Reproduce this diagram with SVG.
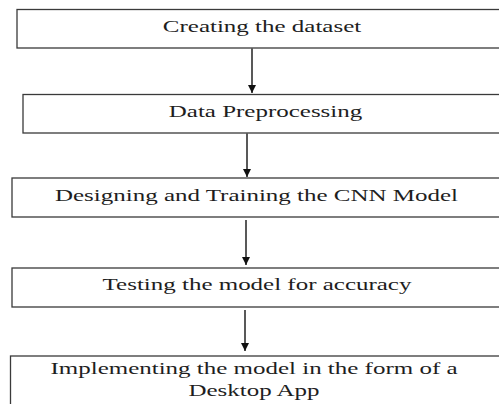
<svg xmlns="http://www.w3.org/2000/svg" width="499" height="404" viewBox="0 0 499 404">
<defs>
<style>
.box{fill:#fff;stroke:#3a3a3a;stroke-width:1.3}
.lbl{font-family:"Liberation Serif","Times New Roman",serif;font-size:16.5px;fill:#1e1e1e;text-anchor:middle}
.conn{stroke:#222;stroke-width:1.5;fill:none}
</style>
<marker id="ah" markerWidth="9" markerHeight="8" refX="8" refY="4" orient="auto" markerUnits="userSpaceOnUse">
<path d="M0,0 L8,4 L0,8 Z" fill="#111"/>
</marker>
</defs>
<rect width="499" height="404" fill="#fff"/>
<g id="n1">
<rect class="box" x="17" y="9.5" width="500" height="38.5"/>
<text class="lbl" transform="translate(262 31.5) scale(1.515 1)">Creating the dataset</text>
</g>
<g id="n2">
<rect class="box" x="23" y="94.5" width="500" height="38.5"/>
<text class="lbl" transform="translate(265.5 116.5) scale(1.515 1)">Data Preprocessing</text>
</g>
<g id="n3">
<rect class="box" x="12" y="178" width="500" height="39"/>
<text class="lbl" transform="translate(256.5 201) scale(1.515 1)">Designing and Training the CNN Model</text>
</g>
<g id="n4">
<rect class="box" x="12" y="268" width="500" height="39"/>
<text class="lbl" transform="translate(257 290) scale(1.515 1)">Testing the model for accuracy</text>
</g>
<g id="n5">
<rect class="box" x="10.5" y="356" width="500" height="60"/>
<text class="lbl" transform="translate(254 374) scale(1.515 1)">Implementing the model in the form of a</text>
<text class="lbl" transform="translate(254 396) scale(1.515 1)">Desktop App</text>
</g>
<g id="connectors">
<line class="conn" x1="252" y1="48.5" x2="252" y2="93" marker-end="url(#ah)"/>
<line class="conn" x1="247" y1="133.5" x2="247" y2="177" marker-end="url(#ah)"/>
<line class="conn" x1="246" y1="220" x2="246" y2="265" marker-end="url(#ah)"/>
<line class="conn" x1="245" y1="310" x2="245" y2="351" marker-end="url(#ah)"/>
</g>
</svg>
